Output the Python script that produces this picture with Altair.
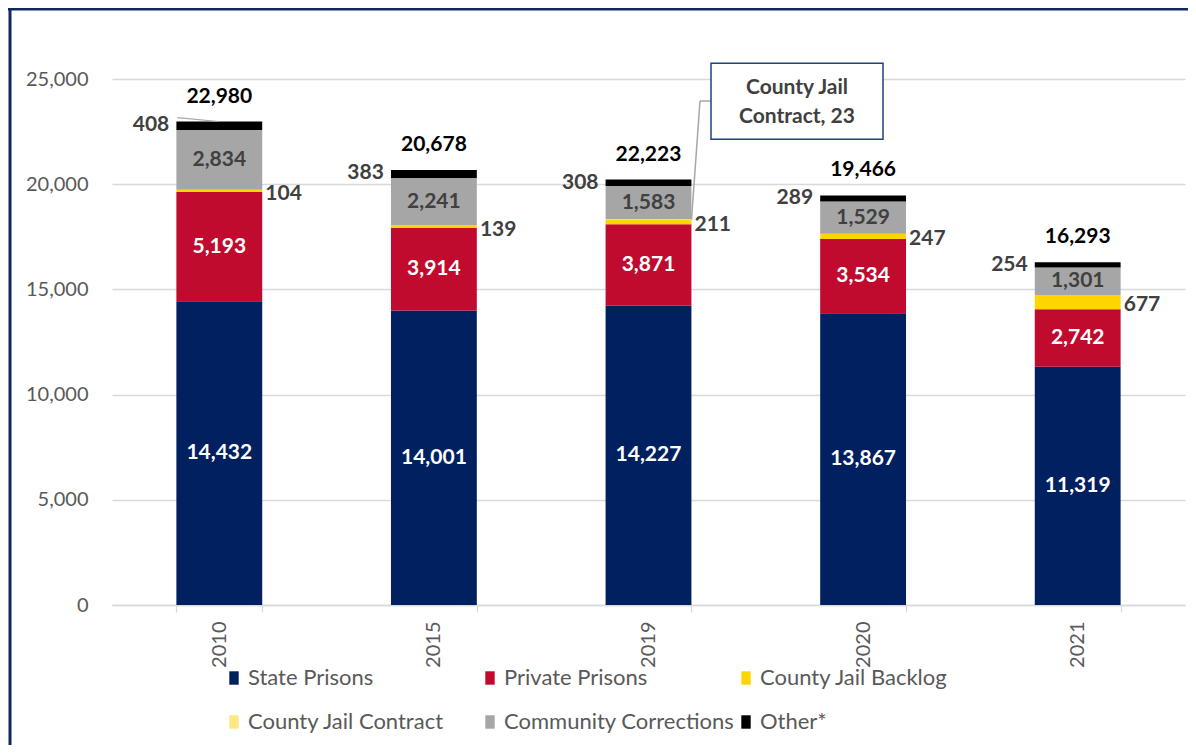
import altair as alt
import pandas as pd

years = ["2010", "2015", "2019", "2020", "2021"]
cats = ["State Prisons", "Private Prisons", "County Jail Backlog",
        "County Jail Contract", "Community Corrections", "Other*"]
state = [14432, 14001, 14227, 13867, 11319]
private = [5193, 3914, 3871, 3534, 2742]
backlog = [104, 139, 211, 247, 677]
contract = [9, 0, 23, 0, 0]
community = [2834, 2241, 1583, 1529, 1301]
other = [408, 383, 308, 289, 254]
total_labels = ["22,980", "20,678", "22,223", "19,466", "16,293"]
colors = ["#002060", "#C00A2E", "#FFD500", "#FFE680", "#A6A6A6", "#000000"]

series = [state, private, backlog, contract, community, other]
rows = []
tops = []
for i, yr in enumerate(years):
    base = 0
    for k, cat in enumerate(cats):
        v = series[k][i]
        rows.append(dict(year=yr, cat=cat, order=k, v=v, y0=base, y1=base + v,
                         mid=base + v / 2, label=f"{v:,}"))
        base += v
    tops.append(dict(year=yr, top=base, total=total_labels[i]))
df = pd.DataFrame(rows)
tdf = pd.DataFrame(tops)

FONT = "Lato"
GRID = "#D9D9D9"
TXT = "#595959"

xenc = alt.X("year:N", sort=years, title=None,
             scale=alt.Scale(paddingInner=0.6, paddingOuter=0.3),
             axis=alt.Axis(labelAngle=270, labelAlign="right", labelBaseline="middle",
                           labelPadding=9, labelFontSize=20, labelColor=TXT, labelFont=FONT,
                           domainColor=GRID, domainWidth=1.3, tickColor=GRID, tickWidth=1.3,
                           tickSize=7, tickBand="extent", grid=False))
yscale = alt.Scale(domain=[0, 25000], nice=False, zero=True)

bars = alt.Chart(df).mark_bar(strokeWidth=0).encode(
    x=xenc,
    y=alt.Y("y0:Q", scale=yscale, title=None,
            axis=alt.Axis(values=[0, 5000, 10000, 15000, 20000, 25000], format=",.0f",
                          labelFontSize=20, labelColor=TXT, labelFont=FONT, labelPadding=24,
                          ticks=False, domain=False, gridColor=GRID, gridWidth=1.3)),
    y2="y1:Q",
    color=alt.Color("cat:N", scale=alt.Scale(domain=cats, range=colors),
                    legend=alt.Legend(title=None, orient="none", legendX=111, legendY=588,
                                      columns=3, direction="horizontal",
                                      symbolType="M-0.7,-1H0.7V1H-0.7Z",
                                      symbolSize=180, symbolStrokeWidth=0,
                                      labelFontSize=22, labelColor=TXT, labelFont=FONT,
                                      columnPadding=0, rowPadding=22, gridAlign="all",
                                      labelLimit=400, labelOffset=3)),
    order="order:Q",
)

white_lbl = alt.Chart(df[df.cat.isin(["State Prisons", "Private Prisons"])]).mark_text(
    font=FONT, fontSize=21, fontWeight="bold", color="white", baseline="middle"
).encode(x=alt.X("year:N", sort=years), y=alt.Y("mid:Q", scale=yscale), text="label:N")

comm_lbl = alt.Chart(df[df.cat == "Community Corrections"]).mark_text(
    font=FONT, fontSize=21, fontWeight="bold", color="#404040", baseline="middle"
).encode(x=alt.X("year:N", sort=years), y=alt.Y("mid:Q", scale=yscale), text="label:N")

back_lbl = alt.Chart(df[df.cat == "County Jail Backlog"]).mark_text(
    font=FONT, fontSize=21, fontWeight="bold", color="#404040", baseline="middle",
    align="left", dx=46, dy=3
).encode(x=alt.X("year:N", sort=years), y=alt.Y("mid:Q", scale=yscale), text="label:N")

other_lbl = alt.Chart(df[df.cat == "Other*"]).mark_text(
    font=FONT, fontSize=21, fontWeight="bold", color="#404040", baseline="middle",
    align="right", dx=-50, dy=3
).encode(x=alt.X("year:N", sort=years), y=alt.Y("y1:Q", scale=yscale), text="label:N")

total_lbl = alt.Chart(tdf).mark_text(
    font=FONT, fontSize=21, fontWeight="bold", color="#000000", baseline="middle", dy=-25
).encode(x=alt.X("year:N", sort=years), y=alt.Y("top:Q", scale=yscale), text="total:N")

# callout for County Jail Contract 2019
cdf = pd.DataFrame({"year": ["2019"]})
leader1 = alt.Chart(cdf).mark_rule(color="#A6A6A6", strokeWidth=1.5, xOffset=43, x2Offset=51.5).encode(
    x=alt.X("year:N", sort=years), x2=alt.X2("year"),
    y=alt.datum(18320), y2=alt.datum(23954))
leader2 = alt.Chart(cdf).mark_rule(color="#A6A6A6", strokeWidth=1.5, xOffset=51.5, x2Offset=62.5).encode(
    x=alt.X("year:N", sort=years), x2=alt.X2("year"),
    y=alt.datum(23954), y2=alt.datum(23954))
box = alt.Chart(cdf).mark_rect(fill="white", stroke="#1F4080", strokeWidth=1.5,
                               xOffset=62.5, x2Offset=234.5).encode(
    x=alt.X("year:N", sort=years), x2=alt.X2("year"),
    y=alt.datum(25746), y2=alt.datum(22134))
box_txt = alt.Chart(cdf).mark_text(font=FONT, fontSize=21, fontWeight="bold", color="#404040",
                                   baseline="middle", lineBreak="\n", lineHeight=28.5, dx=148.5).encode(
    x=alt.X("year:N", sort=years), y=alt.datum(24557),
    text=alt.value("County Jail\nContract, 23"))

# small leader for 2010 "Other*"
ldf = pd.DataFrame({"year": ["2010"]})
leader0 = alt.Chart(ldf).mark_rule(color="#A6A6A6", strokeWidth=1.2, xOffset=-42, x2Offset=-1).encode(
    x=alt.X("year:N", sort=years), x2=alt.X2("year"),
    y=alt.datum(23160), y2=alt.datum(22980))

# frame
fdf = pd.DataFrame({"a": [0]})
frame_top = alt.Chart(fdf).mark_rule(color="#0E2A5C", strokeWidth=3).encode(
    x=alt.value(-104), x2=alt.value(1080), y=alt.value(-70))
frame_left = alt.Chart(fdf).mark_rule(color="#0E2A5C", strokeWidth=3).encode(
    x=alt.value(-102), y=alt.value(-71), y2=alt.value(670))

chart = alt.layer(bars, white_lbl, comm_lbl, back_lbl, other_lbl, total_lbl,
                  leader1, leader2, box, box_txt, leader0, frame_top, frame_left).properties(
    width=1073, height=526,
    padding={"left": 104, "top": 71, "right": 3, "bottom": 140},
    autosize=alt.AutoSizeParams(type="none"),
    background="white",
).configure_view(stroke=None)

chart.save("out.html", embed_options={"renderer": "svg", "actions": False})
